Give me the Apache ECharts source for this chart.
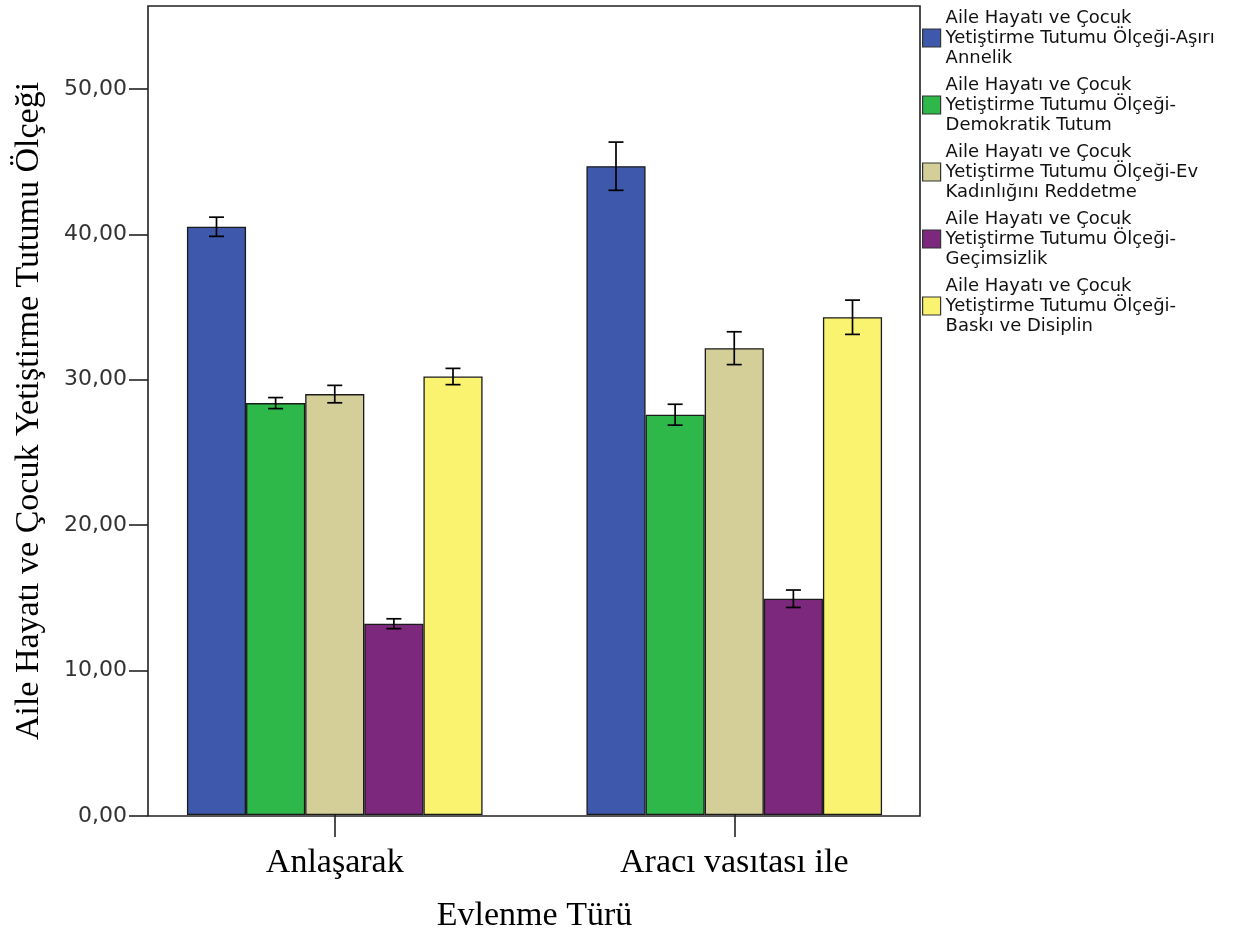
<!DOCTYPE html>
<html><head><meta charset="utf-8">
<script src="https://cdn.jsdelivr.net/npm/echarts@6/dist/echarts.min.js"></script>
<style>html,body{margin:0;padding:0;background:#fff}#c{width:1236px;height:938px}</style>
</head><body><div id="c"></div>
<script>
const categories = ['Anlaşarak', 'Aracı vasıtası ile'];
const seriesNames = [
  'Aile Hayatı ve Çocuk Yetiştirme Tutumu Ölçeği-Aşırı Annelik',
  'Aile Hayatı ve Çocuk Yetiştirme Tutumu Ölçeği-Demokratik Tutum',
  'Aile Hayatı ve Çocuk Yetiştirme Tutumu Ölçeği-Ev Kadınlığını Reddetme',
  'Aile Hayatı ve Çocuk Yetiştirme Tutumu Ölçeği-Geçimsizlik',
  'Aile Hayatı ve Çocuk Yetiştirme Tutumu Ölçeği-Baskı ve Disiplin'
];
const legendLabels = [
  'Aile Hayatı ve Çocuk\nYetiştirme Tutumu Ölçeği-Aşırı\nAnnelik',
  'Aile Hayatı ve Çocuk\nYetiştirme Tutumu Ölçeği-\nDemokratik Tutum',
  'Aile Hayatı ve Çocuk\nYetiştirme Tutumu Ölçeği-Ev\nKadınlığını Reddetme',
  'Aile Hayatı ve Çocuk\nYetiştirme Tutumu Ölçeği-\nGeçimsizlik',
  'Aile Hayatı ve Çocuk\nYetiştirme Tutumu Ölçeği-\nBaskı ve Disiplin'
];
const asiriAnnelik = [40.5, 44.67];
const demokratikTutum = [28.36, 27.56];
const evKadinligi = [28.98, 32.14];
const gecimsizlik = [13.17, 14.89];
const baskiDisiplin = [30.19, 34.27];
// error half-widths
const errAsiri = [0.66, 1.66];
const errDemokratik = [0.38, 0.72];
const errEv = [0.6, 1.13];
const errGecim = [0.34, 0.6];
const errBaski = [0.56, 1.18];
const yTicks = [0, 10, 20, 30, 40, 50];
const yMax = 55.7;
const colors = ['#3e58ab', '#2eb849', '#d4cf98', '#7c287c', '#f9f36f'];

const values = [asiriAnnelik, demokratikTutum, evKadinligi, gecimsizlik, baskiDisiplin];
const errs = [errAsiri, errDemokratik, errEv, errGecim, errBaski];
const nS = values.length;
const catGap = 0.26;

const errData = [];
values.forEach((vals, s) => vals.forEach((v, c) => {
  errData.push([c, s, v - errs[s][c], v + errs[s][c]]);
}));

const chart = echarts.init(document.getElementById('c'), null, {renderer: 'canvas'});
const series = values.map((vals, s) => ({
  name: seriesNames[s], type: 'bar', xAxisIndex: 1, yAxisIndex: 1,
  data: vals, barGap: '0%', barCategoryGap: (catGap * 100) + '%',
  itemStyle: {color: colors[s], borderColor: '#1a1a1a', borderWidth: 1.3},
  emphasis: {disabled: true}
}));
series.push({
  type: 'custom', xAxisIndex: 1, yAxisIndex: 1, data: errData, z: 10,
  renderItem: function (params, api) {
    const c = api.value(0), s = api.value(1);
    const band = api.size([1, 0])[0];
    const bw = band * (1 - catGap) / nS;
    const lo = api.coord([c, api.value(2)]);
    const hi = api.coord([c, api.value(3)]);
    const x = lo[0] + (s - (nS - 1) / 2) * bw;
    const cap = 7.5;
    const st = {stroke: '#000', lineWidth: 1.7};
    return {type: 'group', children: [
      {type: 'line', shape: {x1: x, y1: lo[1], x2: x, y2: hi[1]}, style: st},
      {type: 'line', shape: {x1: x - cap, y1: lo[1], x2: x + cap, y2: lo[1]}, style: st},
      {type: 'line', shape: {x1: x - cap, y1: hi[1], x2: x + cap, y2: hi[1]}, style: st}
    ]};
  }
});

chart.setOption({
  animation: false,
  backgroundColor: '#fff',
  grid: [
    {left: 148, right: 1236 - 920, top: 6, bottom: 938 - 816, show: true, borderColor: '#222', borderWidth: 1.6, backgroundColor: 'transparent'},
    {left: 135, right: 1236 - 934, top: 6, bottom: 938 - 816}
  ],
  legend: {
    orient: 'vertical', left: 917, top: 3, itemWidth: 18, itemHeight: 18, itemGap: 7,
    icon: 'rect', data: seriesNames,
    itemStyle: {borderColor: '#333', borderWidth: 1.2},
    formatter: function (name) { return legendLabels[seriesNames.indexOf(name)]; },
    textStyle: {fontFamily: 'DejaVu Sans', fontSize: 18, lineHeight: 20, color: '#111'},
    selectedMode: false
  },
  xAxis: [
    {gridIndex: 0, type: 'value', show: false, min: 0, max: 1},
    {gridIndex: 1, type: 'category', data: categories,
      name: 'Evlenme Türü', nameLocation: 'middle', nameGap: 84,
      nameTextStyle: {fontFamily: 'Liberation Serif', fontSize: 34, color: '#000'},
      axisLine: {show: false},
      axisTick: {show: true, alignWithLabel: true, length: 22, lineStyle: {color: '#222', width: 1.6}},
      axisLabel: {margin: 31, fontFamily: 'Liberation Serif', fontSize: 34, color: '#000'}}
  ],
  yAxis: [
    {gridIndex: 0, type: 'value', min: 0, max: yMax, interval: 10,
      name: 'Aile Hayatı ve Çocuk Yetiştirme Tutumu Ölçeği', nameLocation: 'middle', nameGap: 102,
      nameTextStyle: {fontFamily: 'Liberation Serif', fontSize: 34, color: '#000'},
      axisLine: {show: false},
      splitLine: {show: false},
      axisTick: {show: true, length: 19, customValues: yTicks, lineStyle: {color: '#222', width: 1.6}},
      axisLabel: {customValues: yTicks, margin: 21, fontFamily: 'DejaVu Sans', fontSize: 22, color: '#333',
        formatter: v => v.toFixed(2).replace('.', ',')}},
    {gridIndex: 1, type: 'value', min: 0, max: yMax, show: false, splitLine: {show: false}}
  ],
  series: series
});
</script></body></html>
